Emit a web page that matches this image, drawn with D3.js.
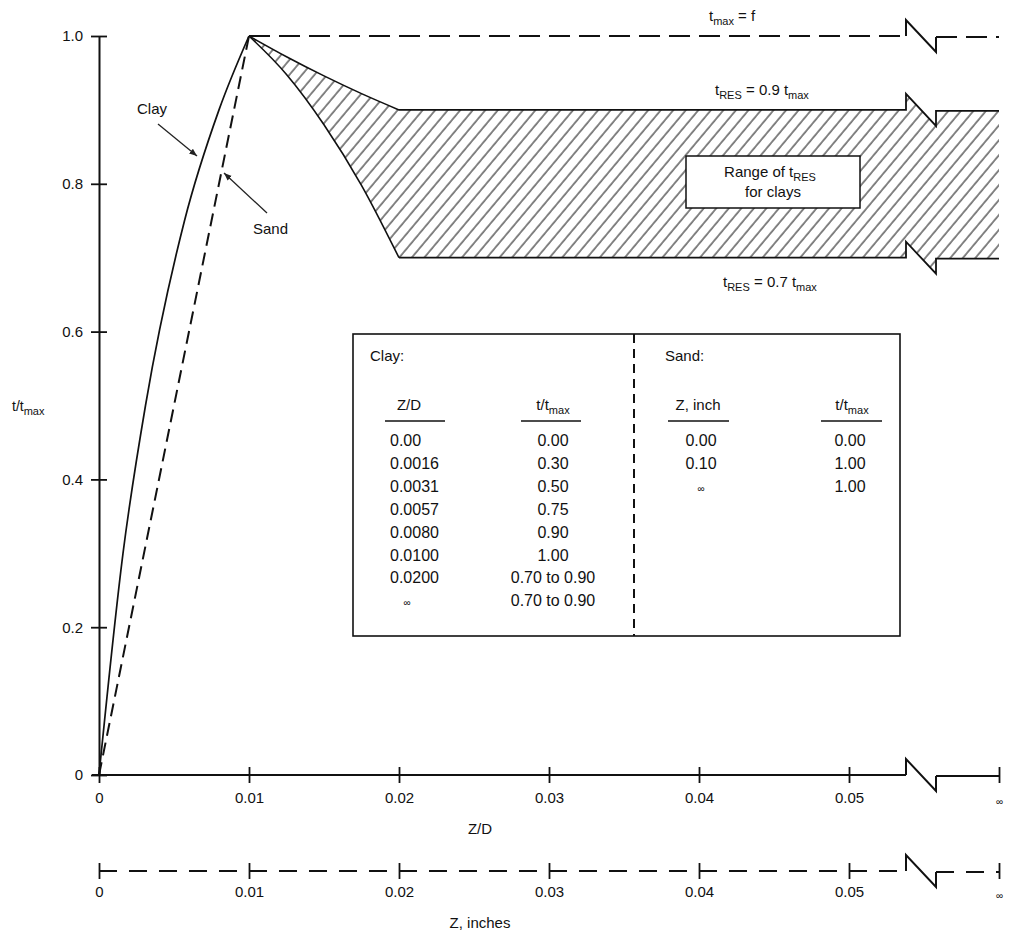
<!DOCTYPE html>
<html><head><meta charset="utf-8">
<script src="https://cdn.jsdelivr.net/npm/d3@7"></script>
<style>
html,body{margin:0;padding:0;background:#fff;}
text{font-family:"Liberation Sans",Arial,sans-serif;fill:#111;}
</style></head>
<body><div id="chart"></div>
<script>
// ---------- data ----------
const clayZD = [0, 0.0016, 0.0031, 0.0057, 0.0080, 0.0100];
const clayT  = [0, 0.30, 0.50, 0.75, 0.90, 1.00];
const sandZD = [0, 0.0100];
const sandT  = [0, 1.00];
const INF = 0.06; // position used for "infinity"
const upperZD = [0.0100, 0.0125, 0.0150, 0.0175, 0.0200];
const upperT  = [1.00, 0.972, 0.946, 0.922, 0.900];
const lowerZD = [0.0100, 0.0125, 0.0150, 0.0175, 0.0200];
const lowerT  = [1.00, 0.948, 0.880, 0.798, 0.700];
const resUpper = 0.90, resLower = 0.70, tMax = 1.0;
const xTicks = [0, 0.01, 0.02, 0.03, 0.04, 0.05, INF];
const xTickLabels = ["0", "0.01", "0.02", "0.03", "0.04", "0.05", "\u221e"];
const yTicks = [0, 0.2, 0.4, 0.6, 0.8, 1.0];
const yTickLabels = ["0", "0.2", "0.4", "0.6", "0.8", "1.0"];
const clayTableZD = ["0.00","0.0016","0.0031","0.0057","0.0080","0.0100","0.0200","\u221e"];
const clayTableT  = ["0.00","0.30","0.50","0.75","0.90","1.00","0.70 to 0.90","0.70 to 0.90"];
const sandTableZ  = ["0.00","0.10","\u221e"];
const sandTableT  = ["0.00","1.00","1.00"];

// ---------- layout ----------
const W = 1019, H = 934;
const svg = d3.select("#chart").append("svg").attr("width", W).attr("height", H);
svg.append("rect").attr("width", W).attr("height", H).attr("fill", "#fff");
const x = d3.scaleLinear().domain([0, INF]).range([99, 999]);
const y = d3.scaleLinear().domain([0, 1]).range([775, 36]);
const brkA = 0.0538, brkB = 0.0558, bh = 16;

const defs = svg.append("defs");
defs.append("pattern").attr("id", "hatch").attr("patternUnits", "userSpaceOnUse")
  .attr("width", 9.6).attr("height", 20).attr("patternTransform", "rotate(40)")
  .append("line").attr("x1", 1).attr("x2", 1).attr("y1", 0).attr("y2", 20)
  .attr("stroke", "#222").attr("stroke-width", 1.1);
defs.append("marker").attr("id", "arr").attr("viewBox", "0 0 10 10").attr("refX", 10).attr("refY", 5)
  .attr("markerWidth", 6).attr("markerHeight", 6).attr("orient", "auto")
  .append("path").attr("d", "M0,1 L10,5 L0,9 z").attr("fill", "#222");

function brkPts(yy) { // pixel points for a horizontal line with break symbol
  return [[x(brkA), yy], [x(brkA), yy - bh], [x(brkB), yy + bh], [x(brkB), yy + 1]];
}
const lin = d3.line();
function brokenLine(g, x0, yy, dash, sw) {
  // dashed (or solid) horizontal line with a solid break symbol
  g.append("path").attr("d", lin([[x0, yy], [x(brkA), yy]])).attr("fill", "none").attr("stroke", "#111")
    .attr("stroke-width", sw).attr("stroke-dasharray", dash);
  g.append("path").attr("d", lin(brkPts(yy))).attr("fill", "none").attr("stroke", "#111")
    .attr("stroke-width", sw).attr("stroke-linejoin", "miter");
  g.append("path").attr("d", lin([[x(brkB), yy + 1], [x(INF), yy + 1]])).attr("fill", "none").attr("stroke", "#111")
    .attr("stroke-width", sw).attr("stroke-dasharray", dash);
}

// ---------- hatched region ----------
const upPts = upperZD.map((d, i) => [x(d), y(upperT[i])]);
const loPts = lowerZD.map((d, i) => [x(d), y(lowerT[i])]);
const curve = d3.line().curve(d3.curveMonotoneX);
const upPath = curve(upPts);
const loPath = curve(loPts);
const topPts = [[x(0.02), y(resUpper)], ...brkPts(y(resUpper)), [x(INF), y(resUpper) + 1]];
const botPts = [[x(0.02), y(resLower)], ...brkPts(y(resLower)), [x(INF), y(resLower) + 1]];
const regionD = upPath + lin(topPts).replace("M", "L") +
  lin(botPts.slice().reverse()).replace("M", "L") +
  curve(loPts.slice().reverse()).replace("M", "L") + "Z";
svg.append("path").attr("d", regionD).attr("fill", "url(#hatch)").attr("stroke", "none");
svg.append("path").attr("d", upPath).attr("fill", "none").attr("stroke", "#111").attr("stroke-width", 1.6);
svg.append("path").attr("d", loPath).attr("fill", "none").attr("stroke", "#111").attr("stroke-width", 1.6);
svg.append("path").attr("d", lin(topPts)).attr("fill", "none").attr("stroke", "#111").attr("stroke-width", 1.8);
svg.append("path").attr("d", lin(botPts)).attr("fill", "none").attr("stroke", "#111").attr("stroke-width", 1.8);

// ---------- tmax dashed line ----------
brokenLine(svg, x(0.01), y(tMax), "21,9", 2);

// ---------- clay & sand curves ----------
svg.append("path").attr("d", d3.line().x(d => x(d[0])).y(d => y(d[1])).curve(d3.curveMonotoneX)(clayZD.map((d, i) => [d, clayT[i]])))
  .attr("fill", "none").attr("stroke", "#111").attr("stroke-width", 1.7);
svg.append("path").attr("d", d3.line().x(d => x(d[0])).y(d => y(d[1]))(sandZD.map((d, i) => [d, sandT[i]])))
  .attr("fill", "none").attr("stroke", "#111").attr("stroke-width", 2).attr("stroke-dasharray", "13,7");

// ---------- axes ----------
const yAx = svg.append("g").attr("transform", `translate(${x(0)},0)`)
  .call(d3.axisLeft(y).tickValues(yTicks).tickFormat((d, i) => yTickLabels[i]).tickSize(0).tickPadding(16));
yAx.select(".domain").attr("stroke", "#111").attr("stroke-width", 2);
yAx.selectAll(".tick").append("line").attr("x1", -8).attr("x2", 8).attr("stroke", "#111").attr("stroke-width", 1.8);
yAx.selectAll("text").attr("font-size", 15).attr("fill", "#111").attr("font-family", "Liberation Sans, Arial, sans-serif");

function xAxis(yy, dashed, pad) {
  const g = svg.append("g").attr("transform", `translate(0,${yy})`)
    .call(d3.axisBottom(x).tickValues(xTicks).tickFormat((d, i) => xTickLabels[i]).tickSize(0).tickPadding(pad));
  g.select(".domain").remove();
  g.selectAll(".tick").append("line").attr("y1", -8).attr("y2", 8).attr("stroke", "#111").attr("stroke-width", 1.8);
  g.selectAll("text").attr("font-size", 15).attr("fill", "#111").attr("font-family", "Liberation Sans, Arial, sans-serif");
  g.selectAll("text").filter((d) => d === INF).attr("font-size", 10).attr("dy", "1.3em");
  brokenLine(g, dashed ? x(0) : x(0) - 7, 0, dashed ? "18,12" : null, 2);
  return g;
}
xAxis(y(0), false, 17);
xAxis(871, true, 15);

// ---------- text helpers ----------
function rich(g, px, py, parts, opts = {}) {
  const size = opts.size || 16;
  const t = g.append("text").attr("x", px).attr("y", py).attr("font-size", size)
    .attr("text-anchor", opts.anchor || "start");
  let prevSub = false;
  parts.forEach(p => {
    const isSub = typeof p !== "string";
    const dy = isSub ? (prevSub ? 0 : 4) : (prevSub ? -4 : 0);
    t.append("tspan").text(isSub ? p.sub : p).attr("font-size", isSub ? 11 : size).attr("dy", dy);
    prevSub = isSub;
  });
  return t;
}

// axis titles
rich(svg, 12, 411, ["t/t", {sub: "max"}], {size: 14});
svg.append("text").attr("x", 480).attr("y", 834).attr("text-anchor", "middle").attr("font-size", 15).text("Z/D");
svg.append("text").attr("x", 480).attr("y", 928).attr("text-anchor", "middle").attr("font-size", 15).text("Z, inches");

// line labels
rich(svg, 709, 21, ["t", {sub: "max"}, " = f"], {size: 15});
rich(svg, 715, 95, ["t", {sub: "RES"}, " = 0.9 t", {sub: "max"}], {size: 15});
rich(svg, 723, 287, ["t", {sub: "RES"}, " = 0.7 t", {sub: "max"}], {size: 15});

// Range box
svg.append("rect").attr("x", 686).attr("y", 156).attr("width", 174).attr("height", 52)
  .attr("fill", "#fff").attr("stroke", "#111").attr("stroke-width", 1.5);
rich(svg, 770, 177, ["Range of t", {sub: "RES"}], {anchor: "middle", size: 15});
svg.append("text").attr("x", 773).attr("y", 197).attr("text-anchor", "middle").attr("font-size", 15).text("for clays");

// Clay / Sand pointers
svg.append("text").attr("x", 137).attr("y", 114).attr("font-size", 15).text("Clay");
svg.append("line").attr("x1", 158).attr("y1", 124).attr("x2", 197).attr("y2", 156)
  .attr("stroke", "#222").attr("stroke-width", 1.3).attr("marker-end", "url(#arr)");
svg.append("text").attr("x", 253).attr("y", 234).attr("font-size", 15).text("Sand");
svg.append("line").attr("x1", 267).attr("y1", 213).attr("x2", 224).attr("y2", 173)
  .attr("stroke", "#222").attr("stroke-width", 1.3).attr("marker-end", "url(#arr)");

// ---------- table box ----------
const tb = svg.append("g");
tb.append("rect").attr("x", 353).attr("y", 334).attr("width", 547).attr("height", 302)
  .attr("fill", "#fff").attr("stroke", "#111").attr("stroke-width", 1.6);
tb.append("line").attr("x1", 634).attr("x2", 634).attr("y1", 334).attr("y2", 636)
  .attr("stroke", "#111").attr("stroke-width", 2).attr("stroke-dasharray", "9,6");
tb.append("text").attr("x", 370).attr("y", 361).attr("font-size", 15).text("Clay:");
tb.append("text").attr("x", 665).attr("y", 361).attr("font-size", 15).text("Sand:");
const heads = [
  {cx: 409, parts: ["Z/D"], ul: [385, 445]},
  {cx: 553, parts: ["t/t", {sub: "max"}], ul: [521, 581]},
  {cx: 698, parts: ["Z, inch"], ul: [668, 729]},
  {cx: 852, parts: ["t/t", {sub: "max"}], ul: [821, 882]}
];
heads.forEach(h => {
  rich(tb, h.cx, 410, h.parts, {anchor: "middle", size: 15});
  tb.append("line").attr("x1", h.ul[0]).attr("x2", h.ul[1]).attr("y1", 421).attr("y2", 421)
    .attr("stroke", "#111").attr("stroke-width", 1.6);
});
const rowY = i => 446 + i * 22.9;
clayTableZD.forEach((s, i) => {
  const inf = s === "\u221e";
  tb.append("text").attr("x", inf ? 407 : 390).attr("y", rowY(i)).attr("text-anchor", inf ? "middle" : "start")
    .attr("font-size", inf ? 10 : 16).text(s);
});
clayTableT.forEach((s, i) => tb.append("text").attr("x", 553).attr("y", rowY(i)).attr("text-anchor", "middle").attr("font-size", 16).text(s));
sandTableZ.forEach((s, i) => {
  const inf = s === "\u221e";
  tb.append("text").attr("x", 701).attr("y", rowY(i)).attr("text-anchor", "middle").attr("font-size", inf ? 10 : 16).text(s);
});
sandTableT.forEach((s, i) => tb.append("text").attr("x", 850).attr("y", rowY(i)).attr("text-anchor", "middle").attr("font-size", 16).text(s));
</script></body></html>
